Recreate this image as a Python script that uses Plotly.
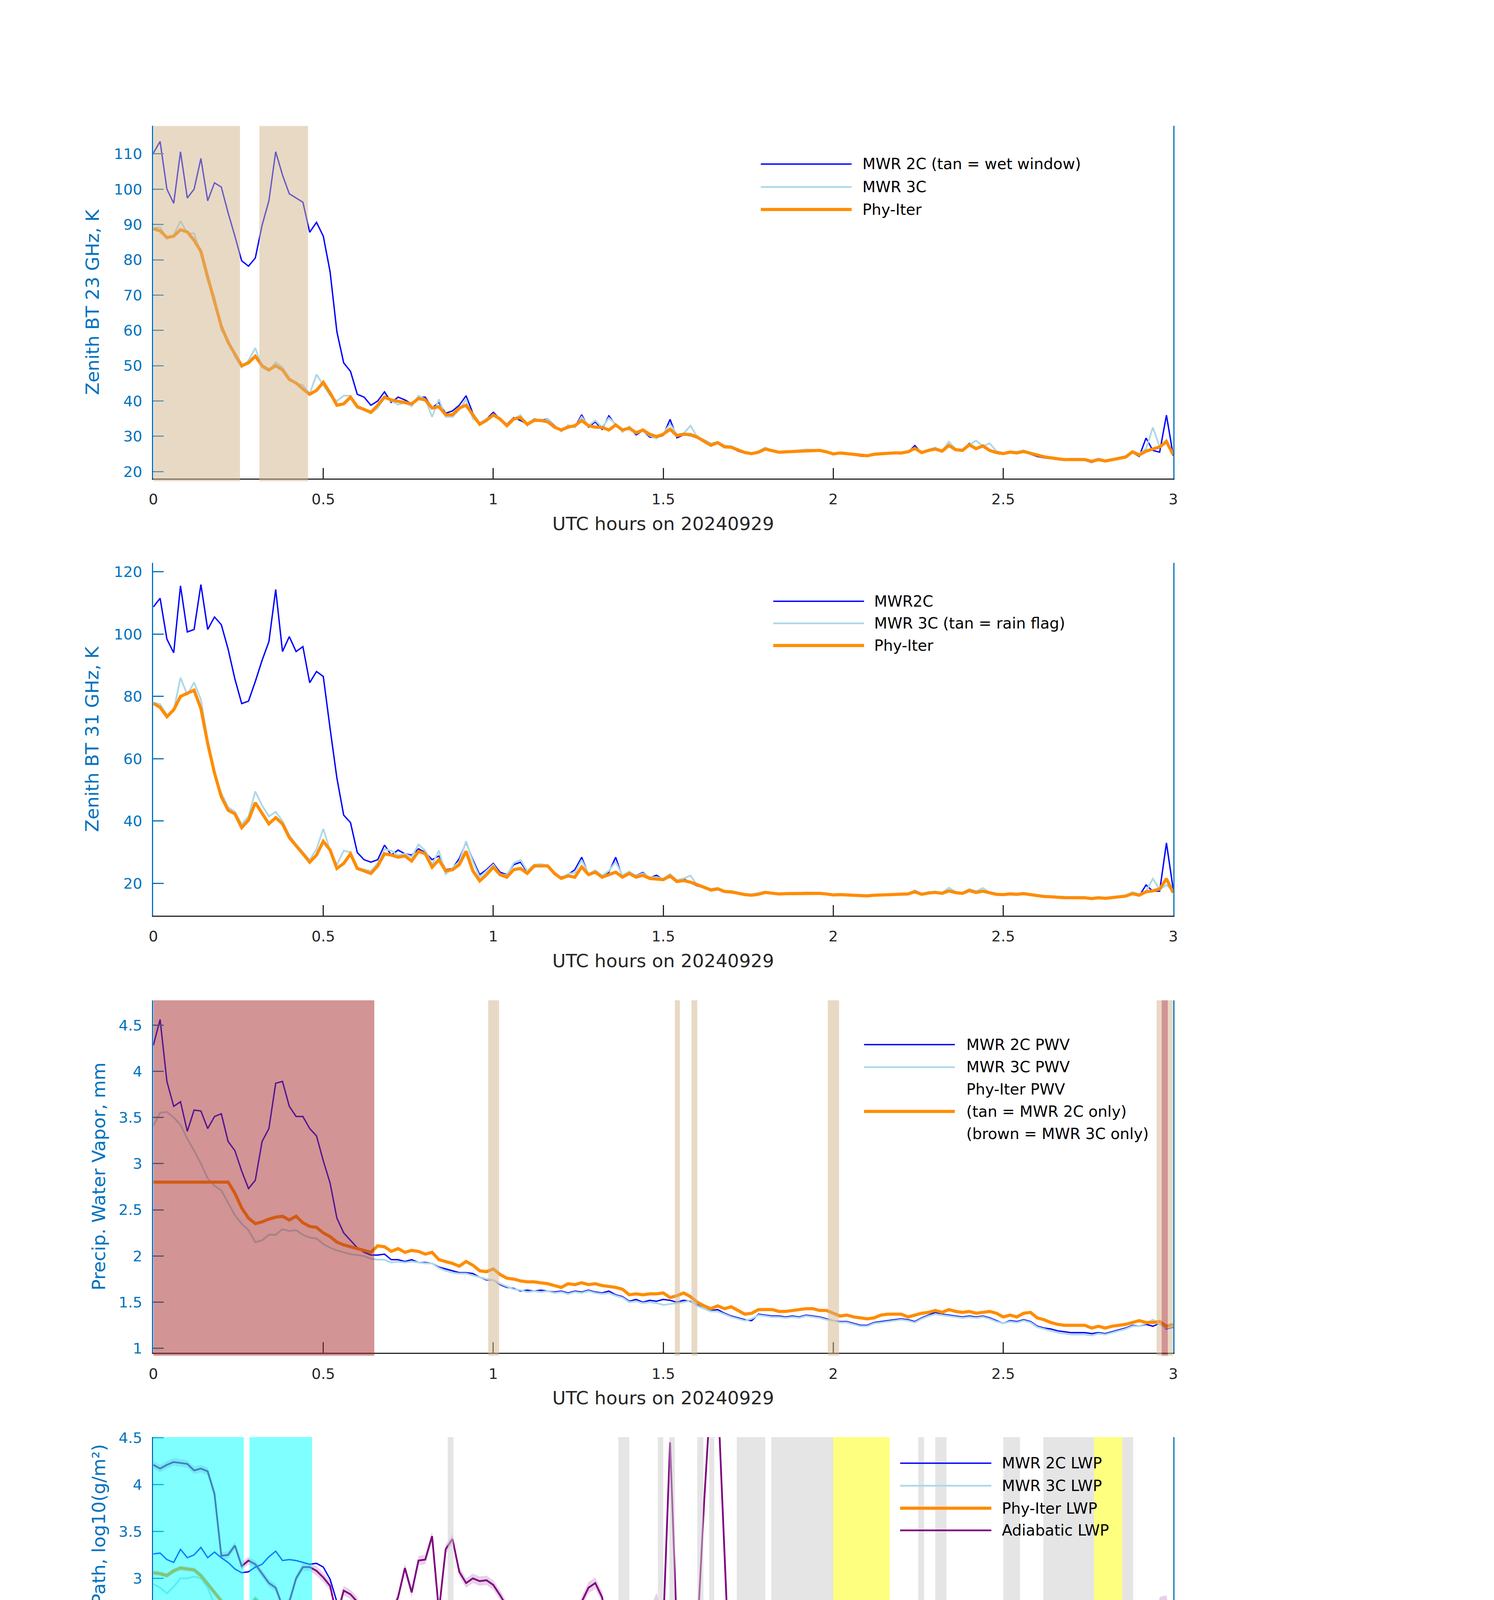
import numpy as np
import plotly.graph_objects as go

FONT = "DejaVu Sans"
W, H = 3825, 6000

# time grid, UTC hours, every 0.02 h
t = np.round(np.arange(151) * 0.02, 2)

# ---- panel 1: zenith BT 23 GHz (K)
bt23_2c = [
    110.2, 113.5, 100.0, 96.0, 110.6, 97.5, 100.0, 108.7, 96.7, 101.8,
    100.6, 93.3, 86.7, 79.7, 78.2, 80.5, 89.8, 96.7, 110.6, 104.0,
    98.7, 97.5, 96.3, 87.8, 90.6, 86.7, 76.6, 59.6, 50.8, 48.4,
    41.9, 41.1, 38.8, 40.0, 42.6, 39.6, 41.1, 40.3, 39.2, 41.1,
    41.1, 38.0, 39.6, 36.5, 37.2, 38.8, 41.5, 36.5, 33.4, 34.9,
    36.8, 34.9, 33.4, 35.3, 34.5, 33.4, 34.9, 34.5, 34.9, 33.0,
    31.4, 33.0, 32.6, 36.1, 32.6, 34.1, 32.0, 35.8, 33.2, 31.4,
    32.6, 30.4, 31.6, 29.8, 29.6, 30.3, 34.8, 29.6, 30.4, 30.2,
    29.5, 28.4, 27.2, 28.3, 26.8, 26.8, 25.8, 25.2, 24.9, 25.4,
    26.6, 25.8, 25.4, 25.6, 25.6, 25.8, 25.9, 26.1, 25.9, 25.5,
    24.9, 25.2, 25.0, 24.7, 24.4, 24.3, 24.8, 25.0, 25.1, 25.2,
    25.2, 25.5, 27.4, 25.2, 25.9, 26.6, 25.6, 27.6, 26.0, 25.9,
    28.0, 26.4, 27.0, 25.8, 25.2, 24.9, 25.4, 25.2, 25.6, 25.0,
    24.3, 23.9, 23.7, 23.4, 23.2, 23.3, 23.4, 23.2, 22.6, 23.3,
    22.8, 23.2, 23.7, 24.0, 25.4, 24.3, 29.5, 26.0, 25.5, 36.0,
    24.5]
bt23_3c = [
    89.0, 89.2, 86.0, 87.0, 91.0, 87.5, 87.5, 81.5, 74.0, 69.5,
    60.0, 57.5, 52.5, 49.5, 51.5, 55.0, 49.5, 48.5, 51.0, 49.5,
    46.5, 45.0, 44.5, 42.0, 47.5, 44.5, 41.5, 40.0, 41.5, 41.5,
    38.0, 37.5, 36.5, 38.0, 41.0, 40.0, 39.0, 39.5, 38.5, 41.5,
    40.5, 35.5, 40.5, 35.5, 35.5, 37.5, 40.5, 35.0, 33.8, 35.0,
    36.0, 34.5, 33.2, 35.0, 36.0, 33.0, 34.8, 34.2, 34.8, 32.8,
    31.5, 33.2, 32.5, 35.5, 33.0, 34.5, 32.5, 35.2, 33.5, 31.2,
    32.8, 30.8, 31.5, 30.2, 29.4, 30.8, 33.5, 30.5, 30.8, 33.0,
    29.8, 29.0, 28.0, 28.4, 27.4, 27.2, 26.3, 25.3, 25.0, 25.8,
    26.8, 26.0, 25.6, 25.8, 25.8, 26.0, 26.3, 26.2, 26.1, 25.7,
    25.2, 25.4, 25.3, 24.9, 24.6, 24.6, 25.1, 25.3, 25.4, 25.4,
    25.0, 25.8, 26.8, 25.2, 26.2, 26.8, 25.8, 28.5, 26.4, 26.3,
    27.5, 28.8, 27.2, 28.0, 25.8, 25.3, 25.8, 25.6, 26.0, 25.4,
    24.6, 24.3, 24.0, 23.7, 23.5, 23.7, 23.7, 23.6, 23.1, 23.7,
    23.2, 23.5, 24.0, 24.4, 25.8, 25.0, 26.5, 32.5, 27.0, 29.0,
    25.0]
bt23_pi = [
    88.8, 88.2, 86.3, 86.7, 88.5, 87.9, 85.5, 82.4, 75.1, 68.1,
    61.2, 56.6, 53.5, 50.0, 50.8, 52.7, 50.0, 48.8, 50.0, 48.8,
    46.1, 45.1, 43.4, 41.9, 43.0, 45.3, 42.3, 38.8, 39.2, 41.1,
    38.4, 37.6, 36.8, 38.8, 41.1, 40.3, 39.9, 39.6, 39.2, 40.7,
    40.3, 38.0, 38.4, 36.1, 36.1, 38.0, 38.8, 36.1, 33.4, 34.5,
    36.1, 34.9, 33.0, 34.9, 35.3, 33.4, 34.5, 34.5, 34.1, 32.6,
    31.8, 32.6, 33.0, 34.5, 33.0, 32.6, 32.5, 31.8, 33.2, 31.8,
    32.3, 31.0, 31.8, 30.6, 29.9, 30.6, 32.0, 30.2, 30.6, 30.5,
    29.8, 28.6, 27.5, 28.2, 27.0, 26.9, 26.1, 25.4, 25.1, 25.5,
    26.4, 25.9, 25.5, 25.6, 25.7, 25.8, 26.0, 26.1, 26.0, 25.6,
    25.0, 25.3, 25.1, 24.8, 24.5, 24.5, 24.9, 25.1, 25.2, 25.3,
    25.3, 25.6, 26.6, 25.4, 26.0, 26.4, 25.8, 27.4, 26.2, 26.0,
    27.6, 26.5, 27.3, 26.0, 25.4, 25.1, 25.5, 25.3, 25.7, 25.2,
    24.5, 24.2, 23.9, 23.6, 23.4, 23.4, 23.5, 23.4, 22.9, 23.4,
    23.0, 23.3, 23.8, 24.1, 25.6, 24.7, 25.8, 26.3, 27.0, 28.5,
    24.8]

# ---- panel 2: zenith BT 31 GHz (K)
bt31_2c = [
    108.7, 111.5, 98.4, 94.0, 115.5, 100.7, 101.5, 115.9, 101.5, 105.5,
    103.0, 95.2, 85.6, 77.7, 78.5, 84.8, 91.6, 97.6, 114.3, 94.4,
    99.2, 94.4, 96.0, 84.4, 88.0, 86.4, 69.7, 53.8, 41.9, 39.5,
    29.9, 27.6, 26.8, 27.6, 32.3, 29.1, 30.7, 29.5, 29.1, 31.1,
    29.9, 27.6, 28.8, 24.4, 24.8, 28.0, 33.1, 27.6, 22.8, 24.4,
    26.4, 23.6, 22.8, 26.0, 26.8, 23.6, 25.2, 26.0, 25.6, 22.8,
    22.0, 22.8, 24.4, 28.4, 22.8, 24.0, 22.0, 23.6, 28.4, 22.0,
    23.6, 22.5, 23.5, 21.8, 22.6, 21.2, 22.0, 20.8, 21.5, 20.2,
    19.2, 18.6, 17.6, 18.0, 17.2, 17.0, 16.6, 16.5, 16.3, 16.6,
    17.0, 16.6, 16.5, 16.6, 16.5, 16.6, 16.7, 16.6, 16.7, 16.5,
    16.2, 16.3, 16.2, 16.0, 15.9, 15.9, 16.1, 16.2, 16.2, 16.3,
    16.4, 16.5, 17.6, 16.4, 16.8, 17.2, 16.6, 17.8, 16.9, 16.7,
    17.9, 17.0, 17.4, 16.8, 16.4, 16.3, 16.6, 16.4, 16.7, 16.3,
    15.9, 15.7, 15.6, 15.4, 15.3, 15.3, 15.4, 15.3, 15.0, 15.3,
    15.1, 15.3, 15.6, 15.8, 16.5, 16.0, 19.5, 17.5, 17.5, 33.0,
    18.0]
bt31_3c = [
    78.0, 77.5, 74.0, 75.5, 86.0, 80.5, 84.5, 79.0, 66.0, 55.0,
    49.0, 44.5, 43.0, 39.0, 41.5, 49.5, 45.0, 41.5, 43.0, 40.0,
    35.5, 32.5, 30.0, 27.5, 31.0, 37.5, 30.5, 26.0, 30.5, 30.0,
    25.0, 24.5, 24.0, 26.5, 31.0, 30.5, 29.0, 29.5, 28.5, 32.5,
    30.5, 26.0, 30.5, 23.0, 25.0, 27.0, 33.5, 27.0, 22.0, 24.0,
    26.0, 23.0, 22.6, 26.5, 27.5, 24.0, 26.0, 26.2, 25.8, 23.5,
    21.8, 23.0, 23.5, 27.5, 23.0, 24.2, 22.5, 24.0, 27.0, 22.5,
    23.8, 22.4, 23.2, 22.0, 22.0, 21.5, 23.0, 21.0, 21.6, 22.5,
    19.4, 18.9, 18.2, 18.5, 17.6, 17.5, 17.0, 16.6, 16.5, 16.9,
    17.4, 17.0, 16.8, 16.9, 16.9, 17.0, 17.1, 17.0, 17.0, 16.7,
    16.5, 16.6, 16.5, 16.3, 16.2, 16.2, 16.4, 16.5, 16.5, 16.6,
    16.5, 16.8, 17.8, 16.7, 17.2, 17.4, 17.0, 18.6, 17.3, 17.0,
    18.2, 17.5, 18.5, 17.1, 16.7, 16.6, 16.9, 16.7, 17.0, 16.6,
    16.2, 16.0, 15.9, 15.7, 15.6, 15.6, 15.7, 15.6, 15.3, 15.6,
    15.4, 15.6, 15.9, 16.2, 17.2, 16.6, 17.5, 21.5, 18.0, 19.5,
    17.5]
bt31_pi = [
    77.8, 76.5, 73.5, 75.7, 80.0, 80.9, 82.0, 76.1, 64.9, 55.4,
    47.8, 43.5, 42.3, 37.9, 40.3, 45.9, 42.7, 39.1, 41.1, 39.1,
    34.7, 31.9, 29.5, 26.8, 29.1, 33.5, 30.7, 24.8, 26.4, 29.5,
    24.8, 24.0, 23.2, 25.6, 29.5, 29.1, 28.4, 28.8, 27.2, 30.3,
    29.5, 25.2, 27.6, 24.0, 24.4, 26.0, 30.3, 24.0, 20.8, 22.8,
    25.2, 22.8, 22.0, 24.4, 24.8, 23.2, 25.6, 25.6, 25.6, 23.2,
    21.6, 22.4, 22.0, 25.3, 22.8, 23.6, 22.0, 22.8, 23.6, 22.0,
    23.2, 22.0, 22.6, 21.6, 21.4, 21.2, 22.4, 20.6, 20.9, 20.4,
    19.6, 18.8, 17.9, 18.3, 17.4, 17.3, 16.8, 16.4, 16.2, 16.5,
    17.1, 16.8, 16.6, 16.7, 16.7, 16.8, 16.9, 16.9, 16.8, 16.6,
    16.3, 16.4, 16.3, 16.1, 16.0, 16.0, 16.2, 16.3, 16.3, 16.4,
    16.4, 16.6, 17.3, 16.5, 16.9, 17.1, 16.8, 17.6, 17.0, 16.8,
    17.7, 17.1, 17.5, 16.9, 16.5, 16.4, 16.6, 16.5, 16.7, 16.4,
    16.0, 15.8, 15.7, 15.5, 15.4, 15.4, 15.4, 15.4, 15.1, 15.4,
    15.2, 15.4, 15.7, 15.9, 16.7, 16.2, 17.3, 17.6, 18.2, 21.5,
    17.0]

# ---- panel 3: precipitable water vapor (mm)
pwv_2c = [
    4.28, 4.56, 3.89, 3.62, 3.67, 3.35, 3.58, 3.57, 3.38, 3.51,
    3.54, 3.24, 3.14, 2.92, 2.73, 2.82, 3.24, 3.38, 3.87, 3.89,
    3.62, 3.51, 3.51, 3.38, 3.30, 3.03, 2.79, 2.41, 2.25, 2.17,
    2.09, 2.04, 2.01, 2.01, 2.02, 1.96, 1.96, 1.94, 1.96, 1.93,
    1.93, 1.92, 1.88, 1.86, 1.84, 1.82, 1.82, 1.81, 1.77, 1.74,
    1.74, 1.69, 1.66, 1.65, 1.62, 1.63, 1.62, 1.63, 1.62, 1.61,
    1.62, 1.60, 1.62, 1.61, 1.63, 1.61, 1.60, 1.62, 1.58, 1.56,
    1.51, 1.53, 1.50, 1.52, 1.51, 1.53, 1.52, 1.50, 1.52, 1.51,
    1.47, 1.43, 1.41, 1.42, 1.38, 1.35, 1.33, 1.31, 1.30, 1.37,
    1.36, 1.35, 1.35, 1.34, 1.35, 1.34, 1.36, 1.35, 1.34, 1.32,
    1.30, 1.29, 1.29, 1.27, 1.25, 1.25, 1.28, 1.29, 1.30, 1.31,
    1.32, 1.31, 1.29, 1.33, 1.36, 1.39, 1.37, 1.36, 1.35, 1.34,
    1.35, 1.34, 1.35, 1.33, 1.30, 1.27, 1.30, 1.29, 1.31, 1.29,
    1.24, 1.22, 1.21, 1.19, 1.18, 1.17, 1.17, 1.17, 1.16, 1.17,
    1.16, 1.18, 1.20, 1.22, 1.25, 1.24, 1.26, 1.24, 1.27, 1.21,
    1.23]
pwv_3c = [
    3.41, 3.55, 3.56, 3.50, 3.42, 3.27, 3.14, 3.00, 2.84, 2.76,
    2.71, 2.57, 2.44, 2.35, 2.28, 2.15, 2.17, 2.23, 2.23, 2.29,
    2.27, 2.28, 2.23, 2.20, 2.19, 2.13, 2.09, 2.06, 2.04, 2.02,
    2.01, 2.00, 1.97, 1.96, 1.96, 1.93, 1.94, 1.93, 1.94, 1.93,
    1.92, 1.92, 1.87, 1.84, 1.82, 1.81, 1.81, 1.79, 1.77, 1.75,
    1.74, 1.70, 1.67, 1.64, 1.63, 1.61, 1.62, 1.61, 1.62, 1.60,
    1.61, 1.59, 1.61, 1.60, 1.62, 1.60, 1.59, 1.60, 1.57, 1.55,
    1.50, 1.51, 1.49, 1.50, 1.49, 1.47, 1.48, 1.49, 1.50, 1.52,
    1.46, 1.43, 1.40, 1.40, 1.37, 1.34, 1.32, 1.30, 1.32, 1.36,
    1.35, 1.34, 1.34, 1.33, 1.34, 1.33, 1.35, 1.34, 1.33, 1.31,
    1.30, 1.28, 1.28, 1.26, 1.24, 1.24, 1.27, 1.28, 1.29, 1.30,
    1.31, 1.30, 1.28, 1.32, 1.35, 1.37, 1.36, 1.35, 1.34, 1.33,
    1.34, 1.33, 1.34, 1.32, 1.29, 1.27, 1.29, 1.28, 1.30, 1.28,
    1.23, 1.21, 1.19, 1.17, 1.16, 1.15, 1.15, 1.15, 1.14, 1.16,
    1.15, 1.17, 1.19, 1.21, 1.24, 1.24, 1.27, 1.31, 1.26, 1.22,
    1.24]
pwv_pi = [
    2.80, 2.80, 2.80, 2.80, 2.80, 2.80, 2.80, 2.80, 2.80, 2.80,
    2.80, 2.80, 2.68, 2.52, 2.41, 2.35, 2.37, 2.40, 2.42, 2.43,
    2.39, 2.43, 2.36, 2.32, 2.31, 2.25, 2.21, 2.15, 2.12, 2.10,
    2.08, 2.06, 2.04, 2.11, 2.10, 2.05, 2.08, 2.04, 2.06, 2.05,
    2.02, 2.04, 1.96, 1.94, 1.92, 1.89, 1.94, 1.90, 1.84, 1.83,
    1.86, 1.80, 1.76, 1.75, 1.73, 1.72, 1.72, 1.71, 1.70, 1.68,
    1.66, 1.70, 1.69, 1.71, 1.69, 1.70, 1.68, 1.67, 1.66, 1.64,
    1.58, 1.59, 1.58, 1.59, 1.59, 1.60, 1.55, 1.57, 1.60, 1.56,
    1.50, 1.46, 1.43, 1.46, 1.43, 1.45, 1.41, 1.37, 1.38, 1.42,
    1.42, 1.42, 1.40, 1.40, 1.41, 1.42, 1.43, 1.43, 1.41, 1.41,
    1.38, 1.35, 1.36, 1.34, 1.33, 1.32, 1.33, 1.36, 1.37, 1.37,
    1.37, 1.34, 1.36, 1.38, 1.39, 1.41, 1.39, 1.42, 1.40, 1.39,
    1.40, 1.38, 1.39, 1.40, 1.38, 1.34, 1.36, 1.34, 1.38, 1.39,
    1.33, 1.31, 1.28, 1.26, 1.25, 1.25, 1.25, 1.25, 1.22, 1.24,
    1.22, 1.24, 1.25, 1.26, 1.28, 1.30, 1.28, 1.28, 1.29, 1.24,
    1.26]

# ---- panel 4: log10 liquid water path
lwp_2c = [
    3.26, 3.27, 3.20, 3.17, 3.31, 3.22, 3.25, 3.33, 3.22, 3.28,
    3.22, 3.17, 3.10, 3.06, 3.07, 3.12, 3.15, 3.23, 3.29, 3.19,
    3.20, 3.19, 3.17, 3.15, 3.16, 3.12, 2.99, 2.75, 2.62, 2.57,
    2.30, 2.17, 1.98, 2.05, 2.40, 2.31, 2.36, 2.28, 2.22, 2.37,
    2.35, 2.28, 2.34, 2.10, 1.95, 2.20, 2.38, 2.05, 1.75, 2.08,
    2.26, 2.05, 1.95, 2.14, 2.23, 2.12, 2.21, 2.22, 2.26, 2.08,
    1.80, 2.15, 1.98, 2.33, 1.98, 2.02, 1.93, 2.20, 2.10, 1.95,
    1.95, 2.04, 1.90, 1.76, 1.98, 1.92, 1.75, 2.25, 1.94, 1.90,
    1.93, 1.78, 1.68, 1.55, 1.40, 1.54, 1.30, 1.20, 1.14, 1.28,
    1.42, 1.12, 1.11, 1.18, 1.22, 1.12, 1.06, 1.22, 1.07, 1.15,
    0.98, 1.12, 1.15, 1.06, 1.18, 1.13, 1.22, 1.15, 1.27, 1.45,
    1.52, 1.05, 1.75, 1.30, 1.30, 1.12, 1.30, 1.70, 1.40, 1.45,
    1.85, 1.70, 1.68, 1.40, 1.52, 1.30, 1.35, 1.49, 1.62, 1.56,
    1.55, 1.32, 1.20, 1.24, 1.05, 1.08, 1.19, 1.05, 1.18, 1.13,
    1.12, 1.22, 1.13, 1.30, 1.72, 1.80, 2.10, 1.35, 2.20, 2.58,
    1.45]
lwp_3c = [
    2.94, 2.90, 2.84, 2.91, 3.00, 3.00, 3.02, 3.00, 2.90, 2.72,
    2.60, 2.62, 2.60, 2.50, 2.70, 2.80, 2.72, 2.61, 2.63, 2.58,
    2.44, 2.40, 2.27, 2.12, 2.38, 2.50, 2.36, 2.05, 2.18, 2.35,
    2.22, 2.08, 1.95, 2.15, 2.40, 2.33, 2.35, 2.34, 2.42, 2.40,
    2.44, 2.10, 2.40, 2.12, 2.05, 2.40, 2.12, 2.28, 1.95, 2.16,
    2.24, 2.10, 1.99, 2.16, 2.40, 2.15, 2.27, 2.27, 2.24, 2.10,
    1.97, 2.20, 2.12, 2.25, 2.20, 2.06, 2.10, 2.28, 2.22, 2.05,
    2.08, 2.10, 2.22, 2.10, 1.98, 2.10, 2.05, 2.35, 2.05, 2.20,
    2.00, 1.90, 1.72, 1.68, 1.66, 1.73, 1.55, 1.48, 1.42, 1.44,
    1.48, 1.45, 1.40, 1.40, 1.39, 1.37, 1.36, 1.48, 1.39, 1.34,
    None, 1.33, 1.38, 1.37, 1.39, 1.36, 1.38, 1.40, 1.38, 1.42,
    1.45, 1.40, 1.60, 1.40, 1.35, 1.33, 1.38, 1.60, 1.45, 1.48,
    1.75, 1.62, 1.72, 1.50, 1.52, 1.38, 1.42, 1.50, 1.60, 1.58,
    1.55, 1.45, 1.40, 1.36, 1.34, 1.36, 1.37, 1.36, 1.38, 1.40,
    1.40, 1.41, 1.42, 1.45, 1.95, 2.25, 1.95, 2.10, 2.45, 1.80,
    2.20]
lwp_pi = [
    3.06, 3.05, 3.03, 3.08, 3.11, 3.10, 3.09, 3.03, 2.94, 2.84,
    2.76, 2.69, 2.66, 2.57, 2.70, 2.77, 2.72, 2.63, 2.65, 2.58,
    2.44, 2.34, 2.27, 2.17, 2.36, 2.48, 2.38, 2.10, 2.22, 2.36,
    2.22, 2.09, 1.98, 2.20, 2.38, 2.35, 2.31, 2.32, 2.28, 2.41,
    2.36, 2.22, 2.34, 2.16, 2.17, 2.28, 2.36, 2.15, 1.90, 2.10,
    2.24, 2.12, 2.03, 2.20, 2.26, 2.12, 2.22, 2.27, 2.28, 2.08,
    2.01, 2.05, 2.09, 2.24, 2.18, 2.12, 2.06, 2.08, 2.18, 2.04,
    2.14, 2.05, 2.15, 2.00, 1.95, 2.05, 2.15, 1.93, 2.05, 1.94,
    1.90, 1.80, 1.69, 1.80, 1.62, 1.52, 1.40, 1.24, None, None,
    None, None, None, None, None, None, None, None, None, None,
    None, None, None, None, None, None, None, None, None, 1.12,
    1.17, 1.45, 1.70, 1.02, 1.18, 1.17, 1.17, 1.62, 1.40, 1.40,
    1.85, 1.65, 1.78, 1.34, 1.35, 1.28, 1.33, None, None, None,
    None, None, None, None, None, None, None, None, None, None,
    None, None, None, 1.29, 1.38, 1.75, 1.60, 1.90, 2.10, 1.95,
    1.60]
lwp_adi = [
    4.21, 4.17, 4.21, 4.24, 4.23, 4.22, 4.15, 4.17, 4.14, 3.90,
    3.24, 3.25, 3.35, 3.13, 3.19, 3.15, 3.05, 2.95, 2.90, 2.70,
    2.75, 3.00, 3.12, 3.12, 3.08, 3.01, 2.92, 2.60, 2.87, 2.83,
    2.75, 2.50, 2.23, 2.27, 2.55, 2.62, 2.80, 3.11, 2.85, 3.19,
    3.20, 3.45, 2.65, 3.31, 3.42, 3.07, 2.95, 3.00, 2.97, 2.98,
    2.93, 2.82, 2.70, 2.66, 2.72, 2.60, 2.61, 2.48, 2.41, 2.25,
    2.20, 2.40, 2.51, 2.75, 2.90, 2.95, 2.80, 2.40, 2.02, 2.55,
    2.40, 2.10, 2.35, 2.56, 2.75, 2.50, 4.45, 2.45, 2.55, 2.15,
    2.40, 3.80, 5.00, 5.00, 3.30, 1.55, 1.36, None, None, None,
    None, None, None, None, None, None, None, None, None, None,
    None, None, None, None, None, None, None, None, None, 1.25,
    1.50, 2.30, 1.75, 1.45, 1.59, 1.30, 1.95, 1.95, 2.16, 1.80,
    2.05, 2.15, 2.00, 1.98, 1.75, 1.30, 1.30, 1.49, None, None,
    None, None, None, None, None, None, None, None, None, None,
    None, None, None, 1.16, 1.55, 2.10, 2.20, 2.30, 2.70, 2.72,
    2.30]
# uncertainty half-widths of the shaded envelopes
lwp_adi_err = [
    0.04, 0.04, 0.04, 0.04, 0.04, 0.04, 0.04, 0.04, 0.04, 0.04,
    0.04, 0.04, 0.04, 0.04, 0.04, 0.04, 0.04, 0.04, 0.04, 0.04,
    0.04, 0.04, 0.04, 0.04, 0.05, 0.05, 0.05, 0.05, 0.05, 0.05,
    0.05, 0.05, 0.05, 0.05, 0.05, 0.05, 0.05, 0.05, 0.05, 0.05,
    0.05, 0.05, 0.05, 0.05, 0.05, 0.05, 0.05, 0.05, 0.05, 0.05,
    0.05, 0.05, 0.05, 0.05, 0.05, 0.05, 0.05, 0.05, 0.05, 0.05,
    0.06, 0.06, 0.06, 0.06, 0.06, 0.06, 0.06, 0.06, 0.06, 0.06,
    0.08, 0.08, 0.10, 0.10, 0.10, 0.10, 0.10, 0.10, 0.10, 0.10,
    0.10, 0.10, 0.10, 0.10, 0.20, 0.30, 0.30, 0.30, 0.30, 0.30,
    0.30, 0.30, 0.30, 0.30, 0.30, 0.30, 0.30, 0.30, 0.30, 0.30,
    0.30, 0.30, 0.30, 0.30, 0.30, 0.30, 0.30, 0.30, 0.30, 0.30,
    0.40, 0.40, 0.40, 0.30, 0.30, 0.30, 0.25, 0.25, 0.20, 0.20,
    0.20, 0.15, 0.15, 0.15, 0.20, 0.30, 0.30, 0.30, 0.30, 0.30,
    0.30, 0.30, 0.30, 0.30, 0.30, 0.30, 0.30, 0.30, 0.30, 0.30,
    0.30, 0.30, 0.30, 0.30, 0.30, 0.25, 0.15, 0.12, 0.10, 0.10,
    0.10]
lwp_pi_err = [
    0.03, 0.03, 0.03, 0.03, 0.03, 0.03, 0.03, 0.03, 0.03, 0.03,
    0.03, 0.03, 0.03, 0.03, 0.03, 0.03, 0.03, 0.03, 0.03, 0.03,
    0.03, 0.03, 0.03, 0.03, 0.03, 0.03, 0.03, 0.03, 0.03, 0.03,
    0.03, 0.03, 0.04, 0.03, 0.03, 0.03, 0.03, 0.03, 0.03, 0.03,
    0.03, 0.03, 0.03, 0.03, 0.03, 0.03, 0.03, 0.03, 0.03, 0.03,
    0.03, 0.03, 0.03, 0.03, 0.03, 0.03, 0.03, 0.03, 0.03, 0.03,
    0.03, 0.03, 0.03, 0.03, 0.03, 0.03, 0.03, 0.03, 0.03, 0.03,
    0.04, 0.04, 0.04, 0.04, 0.05, 0.05, 0.05, 0.05, 0.06, 0.06,
    0.06, 0.08, 0.10, 0.10, 0.10, 0.15, 0.20, 0.20, 0.20, 0.20,
    0.20, 0.20, 0.20, 0.20, 0.20, 0.20, 0.20, 0.20, 0.20, 0.20,
    0.20, 0.20, 0.20, 0.20, 0.20, 0.20, 0.20, 0.20, 0.20, 0.40,
    0.40, 0.40, 0.40, 0.40, 0.40, 0.40, 0.40, 0.35, 0.30, 0.30,
    0.30, 0.25, 0.25, 0.40, 0.40, 0.40, 0.40, 0.40, 0.40, 0.40,
    0.40, 0.40, 0.40, 0.40, 0.40, 0.40, 0.40, 0.40, 0.40, 0.40,
    0.40, 0.40, 0.40, 0.30, 0.25, 0.20, 0.15, 0.15, 0.15, 0.15,
    0.15]
adi_x_t = [1.806, 1.957, 1.957]
adi_x_v = [1.45, 1.06, 0.99]
pi_x_t = [1.957]
pi_x_v = [1.12]

# ---- panel 5: DQ flag, runs of minute indices (minute k -> hour (k+0.5)/60)
dq11_runs = [(1, 15), (17, 27)]
dq10_runs = [(0, 5), (8, 9), (17, 25)]
dq9_runs = [(0, 0), (17, 22)]
dq7_runs = [(0, 14)]
dq6_runs = [(0, 13), (18, 18)]
dq5_runs = [(120, 129), (166, 170)]
dq4_runs = [(52, 52), (82, 83), (89, 89), (91, 91), (96, 96), (98, 98),
            (103, 104), (117, 117), (135, 135), (138, 138), (150, 151),
            (157, 165), (171, 172)]
dq3_runs = [(105, 107), (109, 116), (118, 119), (139, 139), (152, 152)]
dq0_runs = [(16, 16), (28, 51), (53, 81), (84, 88), (90, 90), (92, 95),
            (97, 97), (99, 102), (108, 108), (130, 134), (136, 137),
            (140, 149), (153, 156), (173, 180)]

# ---- shaded periods (hours)
tan1 = [(0.0, 0.255), (0.312, 0.455)]
tan3 = [(0.985, 1.017), (1.534, 1.549), (1.583, 1.600), (1.984, 2.017),
        (2.951, 2.966), (2.984, 3.0)]
brown3 = [(0.0, 0.65), (2.966, 2.984)]
cyan4 = [(0.0, 0.266), (0.283, 0.467)]
gray4 = [(0.866, 0.883), (1.368, 1.40), (1.484, 1.50), (1.518, 1.534),
         (1.60, 1.618), (1.635, 1.65), (1.716, 1.80), (1.818, 2.0),
         (2.25, 2.267), (2.30, 2.333), (2.50, 2.549), (2.618, 2.767),
         (2.85, 2.882)]
yellow4 = [(2.0, 2.166), (2.767, 2.85)]

BLUE = "#0000FF"
LBLUE = "#ADD8E6"
ORANGE = "#FF8C00"
PURPLE = "#800080"
AXBLUE = "#0072BD"
DARK = "#262626"

XDOM = [0.098, 0.785]
panels = [  # (top px, bottom px) in the 3825x6000 image
    (296, 1203), (1420, 2328), (2546, 3453), (3670, 4578), (4795, 5703)]
yranges = [[18.07, 117.9], [9.66, 122.9], [0.952, 4.768], [0.745, 4.505], [-0.505, 11.51]]
ydticks = [10, 20, 0.5, 0.5, 2]
ytitles = ["Zenith BT 23 GHz, K", "Zenith BT 31 GHz, K", "Precip. Water Vapor, mm",
           "log10 Liquid Water Path, log10(g/m\u00b2)", "MWR Phy Iter DQ Flag"]
ytitle_x = [218, 217, 233, 234, 245]

fig = go.Figure()


def line(x, y, color, width, n):
    fig.add_trace(go.Scatter(x=x, y=y, mode="lines", line=dict(color=color, width=width),
                             xaxis="x%d" % n if n > 1 else "x",
                             yaxis="y%d" % n if n > 1 else "y",
                             showlegend=False, connectgaps=False, hoverinfo="skip"))


def band(x, v, e, color, n):
    bx, by = [], []
    seg = []
    for xi, vi, ei in list(zip(x, v, e)) + [(None, None, None)]:
        if vi is None:
            if len(seg) > 1:
                bx += [s[0] for s in seg] + [s[0] for s in seg[::-1]] + [None]
                by += [s[1] + s[2] for s in seg] + [s[1] - s[2] for s in seg[::-1]] + [None]
            seg = []
        else:
            seg.append((xi, vi, ei))
    fig.add_trace(go.Scatter(x=bx, y=by, mode="lines", fill="toself", fillcolor=color,
                             line=dict(width=0), xaxis="x%d" % n, yaxis="y%d" % n,
                             showlegend=False, hoverinfo="skip"))


# panel 1
line(t, bt23_2c, BLUE, 3.5, 1)
line(t, bt23_3c, LBLUE, 4.5, 1)
line(t, bt23_pi, ORANGE, 8, 1)
# panel 2
line(t, bt31_2c, BLUE, 3.5, 2)
line(t, bt31_3c, LBLUE, 4.5, 2)
line(t, bt31_pi, ORANGE, 8, 2)
# panel 3
line(t, pwv_2c, BLUE, 3.5, 3)
line(t, pwv_3c, LBLUE, 4.5, 3)
line(t, pwv_pi, ORANGE, 8, 3)
# panel 4
band(t, lwp_pi, lwp_pi_err, "rgba(255,140,0,0.2)", 4)
band(t, lwp_adi, lwp_adi_err, "rgba(128,0,128,0.18)", 4)
line(t, lwp_2c, BLUE, 3.5, 4)
line(t, lwp_3c, LBLUE, 4.5, 4)
line(t, lwp_pi, ORANGE, 8, 4)
line(t, lwp_adi, PURPLE, 4.5, 4)
fig.add_trace(go.Scatter(x=adi_x_t, y=adi_x_v, mode="markers", xaxis="x4", yaxis="y4",
                         marker=dict(symbol="x-thin", size=16, line=dict(width=5, color=PURPLE)),
                         showlegend=False, hoverinfo="skip"))
fig.add_trace(go.Scatter(x=pi_x_t, y=pi_x_v, mode="markers", xaxis="x4", yaxis="y4",
                         marker=dict(symbol="x-thin", size=16, line=dict(width=5, color=ORANGE)),
                         showlegend=False, hoverinfo="skip"))
# panel 5
for level, runs in [(11, dq11_runs), (10, dq10_runs), (9, dq9_runs), (7, dq7_runs),
                    (6, dq6_runs), (5, dq5_runs), (4, dq4_runs), (3, dq3_runs), (0, dq0_runs)]:
    mins = [k for a, b in runs for k in range(a, b + 1)]
    fig.add_trace(go.Scatter(x=[(k + 0.5) / 60 for k in mins], y=[level] * len(mins),
                             mode="markers", marker=dict(color=ORANGE, size=8),
                             xaxis="x5", yaxis="y5", showlegend=False, hoverinfo="skip"))

layout = dict(width=W, height=H, paper_bgcolor="white", plot_bgcolor="white",
              margin=dict(l=0, r=0, t=0, b=0), showlegend=False,
              font=dict(family=FONT, size=38, color=DARK))
shapes = []
annotations = []
for i, (top, bot) in enumerate(panels):
    n = i + 1
    sfx = "" if n == 1 else str(n)
    ydom = [1 - bot / H, 1 - top / H]
    layout["xaxis" + sfx] = dict(
        domain=XDOM, range=[0, 3], anchor="y" + sfx, dtick=0.5, tick0=0,
        showgrid=False, zeroline=False, showline=True, linecolor=DARK, linewidth=2.5,
        ticks="inside", ticklen=27, tickwidth=2.5, tickcolor=DARK,
        tickfont=dict(family=FONT, size=38, color=DARK), ticklabelstandoff=18)
    layout["yaxis" + sfx] = dict(
        domain=ydom, range=yranges[i], anchor="x" + sfx, dtick=ydticks[i],
        tick0=0, showgrid=False, zeroline=False, showline=True, mirror=True,
        linecolor=AXBLUE, linewidth=2.5, ticks="inside", ticklen=27, tickwidth=2.5,
        tickcolor=AXBLUE, tickfont=dict(family=FONT, size=38, color=AXBLUE),
        ticklabelstandoff=18)
    annotations.append(dict(text="UTC hours on 20240929", xref="paper", yref="paper",
                            x=sum(XDOM) / 2, y=1 - (bot + 116) / H, showarrow=False,
                            xanchor="center", yanchor="middle",
                            font=dict(family=FONT, size=47, color=DARK)))
    annotations.append(dict(text=ytitles[i], xref="paper", yref="paper",
                            x=ytitle_x[i] / W, y=1 - (top + bot) / 2 / H, showarrow=False,
                            textangle=-90, xanchor="center", yanchor="middle",
                            font=dict(family=FONT, size=47, color=AXBLUE)))


def shade(spans, color, n):
    sfx = "" if n == 1 else str(n)
    for a, b in spans:
        shapes.append(dict(type="rect", xref="x" + sfx, yref="y%s domain" % sfx,
                           x0=a, x1=b, y0=-0.008, y1=1, fillcolor=color,
                           line=dict(width=0), layer="above"))


shade(tan1, "rgba(210,180,140,0.5)", 1)
shade(tan3, "rgba(210,180,140,0.5)", 3)
shade(brown3, "rgba(165,42,42,0.5)", 3)
shade(cyan4, "rgba(0,255,255,0.5)", 4)
shade(gray4, "rgba(204,204,204,0.5)", 4)
shade(yellow4, "rgba(255,255,0,0.5)", 4)


def legend_row(x0, x1, xt, ypx, label, color=None, width=0):
    if color:
        shapes.append(dict(type="line", xref="paper", yref="paper", x0=x0 / W, x1=x1 / W,
                           y0=1 - ypx / H, y1=1 - ypx / H, layer="above",
                           line=dict(color=color, width=width)))
    annotations.append(dict(text=label, xref="paper", yref="paper", x=xt / W,
                            y=1 - ypx / H, showarrow=False, xanchor="left",
                            yanchor="middle", font=dict(family=FONT, size=39, color="black")))


legend_row(1940, 2174, 2200, 394, "MWR 2C (tan = wet window)", BLUE, 3.5)
legend_row(1940, 2174, 2200, 453, "MWR 3C", LBLUE, 4.5)
legend_row(1940, 2174, 2200, 511, "Phy-Iter", ORANGE, 8)

legend_row(1972, 2206, 2230, 1519, "MWR2C", BLUE, 3.5)
legend_row(1972, 2206, 2230, 1576, "MWR 3C (tan = rain flag)", LBLUE, 4.5)
legend_row(1972, 2206, 2230, 1633, "Phy-Iter", ORANGE, 8)

legend_row(2206, 2440, 2467, 2660, "MWR 2C PWV", BLUE, 3.5)
legend_row(2206, 2440, 2467, 2718, "MWR 3C PWV", LBLUE, 4.5)
legend_row(2206, 2440, 2467, 2775, "Phy-Iter PWV")
legend_row(2206, 2440, 2467, 2832, "(tan = MWR 2C only)", ORANGE, 8)
legend_row(2206, 2440, 2467, 2889, "(brown = MWR 3C only)")

legend_row(2299, 2534, 2559, 3737, "MWR 2C LWP", BLUE, 3.5)
legend_row(2299, 2534, 2559, 3795, "MWR 3C LWP", LBLUE, 4.5)
legend_row(2299, 2534, 2559, 3853, "Phy-Iter LWP", ORANGE, 8)
legend_row(2299, 2534, 2559, 3910, "Adiabatic LWP", PURPLE, 4.5)

layout["shapes"] = shapes
layout["annotations"] = annotations
fig.update_layout(**layout)
fig.write_html("out.html")
